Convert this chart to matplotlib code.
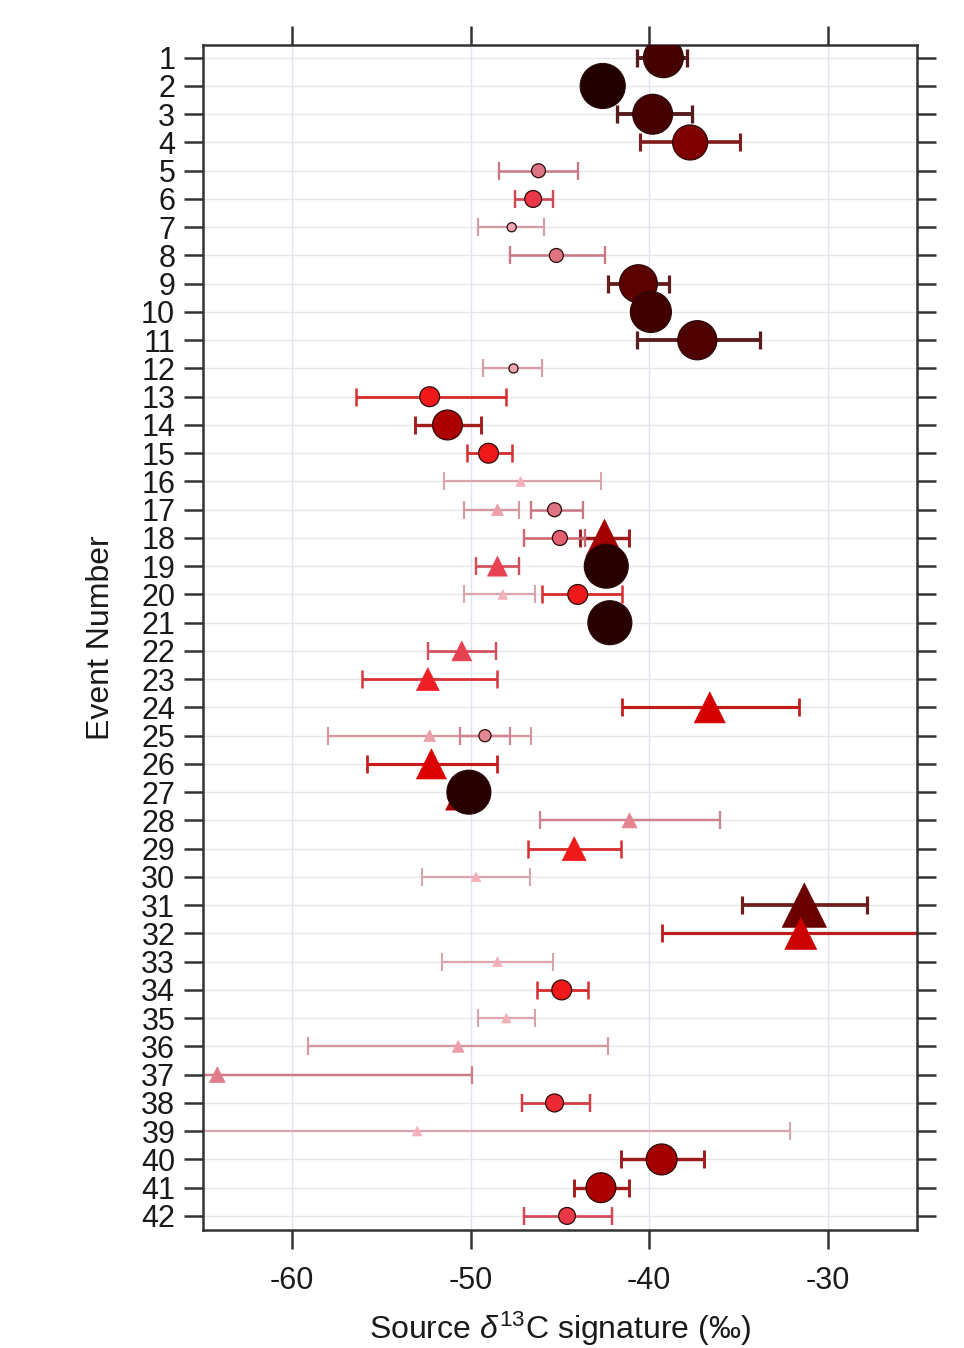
import numpy as np
import matplotlib
matplotlib.use("Agg")
import matplotlib.pyplot as plt
from matplotlib.colors import LinearSegmentedColormap, to_rgb


# ---------------------------------------------------
# Data
# ---------------------------------------------------

# circles
circ_event = [1, 2, 3, 4, 5, 6, 7, 8, 9, 10, 11, 12, 13, 14, 15,
              17, 18, 19, 20, 21, 25, 27, 34, 38, 40, 41, 42]
circ_mean = [-39.2, -42.6, -39.8, -37.7, -46.2, -46.5, -47.7, -45.2,
             -40.6, -39.9, -37.3, -47.6, -52.3, -51.3, -49.0,
             -45.3, -45.0, -42.4, -44.0, -42.2, -49.2, -50.1,
             -44.9, -45.3, -39.3, -42.7, -44.6]
circ_lo = [-40.7, -43.2, -41.8, -40.5, -48.4, -47.5, -49.6, -47.8,
           -42.3, -40.5, -40.7, -49.3, -56.4, -53.1, -50.2,
           -46.6, -47.0, -43.0, -46.0, -42.8, -50.6, -50.7,
           -46.3, -47.1, -41.6, -44.2, -47.0]
circ_hi = [-37.9, -42.0, -37.6, -34.9, -44.0, -45.4, -45.9, -42.5,
           -38.9, -39.3, -33.8, -46.0, -48.0, -49.4, -47.7,
           -43.7, -43.6, -41.8, -41.5, -41.6, -47.8, -49.5,
           -43.4, -43.3, -36.9, -41.1, -42.1]
circ_weight = [0.86, 1.00, 0.86, 0.73, 0.16, 0.24, 0.03, 0.16,
               0.81, 0.89, 0.84, 0.03, 0.32, 0.59, 0.32,
               0.16, 0.19, 0.97, 0.32, 0.97, 0.11, 0.97,
               0.32, 0.27, 0.62, 0.59, 0.24]

# triangles
tri_event = [16, 17, 18, 19, 20, 22, 23, 24, 25, 26, 27, 28, 29, 30,
             31, 32, 33, 35, 36, 37, 39]
tri_mean = [-47.2, -48.5, -42.5, -48.5, -48.2, -50.5, -52.4, -36.6,
            -52.3, -52.2, -50.4, -41.1, -44.2, -49.7, -31.3, -31.5,
            -48.5, -48.0, -50.7, -64.2, -53.0]
tri_lo = [-51.5, -50.4, -43.9, -49.7, -50.4, -52.4, -56.1, -41.5,
          -58.0, -55.8, -51.0, -46.1, -46.8, -52.7, -34.8, -39.3,
          -51.6, -49.6, -59.1, -78.5, -73.9]
tri_hi = [-42.7, -47.3, -41.1, -47.3, -46.4, -48.6, -48.5, -31.6,
          -46.6, -48.5, -49.8, -36.0, -41.6, -46.7, -27.8, -23.7,
          -45.4, -46.4, -42.3, -49.9, -32.1]
tri_weight = [0.00, 0.05, 0.62, 0.23, 0.00, 0.23, 0.30, 0.48,
              0.05, 0.46, 0.59, 0.12, 0.32, 0.00, 0.78, 0.50,
              0.00, 0.00, 0.05, 0.14, 0.00]

x_ticks = [-60, -50, -40, -30]


# ---------------------------------------------------
# Style
# ---------------------------------------------------

plt.rcParams["font.family"] = ["Liberation Sans", "DejaVu Sans"]
plt.rcParams["mathtext.fontset"] = "custom"
plt.rcParams["mathtext.rm"] = "Liberation Sans"
plt.rcParams["mathtext.it"] = "Liberation Sans:italic"

cmap = LinearSegmentedColormap.from_list(
    "weight",
    [(0.00, "#f4b0b8"), (0.16, "#de7482"), (0.25, "#ec3040"),
     (0.32, "#f01818"), (0.45, "#e00000"), (0.60, "#aa0000"),
     (0.73, "#800000"), (0.86, "#480000"), (1.00, "#220000")]
)

axis_col = "#333333"
text_col = "#1a1a1a"


def err_colour(c):
    # error bars: marker colour, a bit greyer
    r, g, b = to_rgb(c)
    grey = 0.5
    return (0.78 * r + 0.22 * grey, 0.78 * g + 0.22 * grey,
            0.78 * b + 0.22 * grey)


def px_to_pt(px):
    return px * 72.0 / 100.0


# ---------------------------------------------------
# Plot
# ---------------------------------------------------

fig = plt.figure(figsize=(9.64, 13.48), dpi=100)
ax = fig.add_axes([0.2106, 0.0875, 0.7404, 0.8791])

ax.set_xlim(-65, -25)
ax.set_ylim(42.5, 0.55)

ax.set_xticks(x_ticks)
ax.set_xticklabels([str(v) for v in x_ticks])
ax.set_yticks(range(1, 43))

for y in range(1, 43):
    ax.axhline(y, color="#e6e6ec", lw=1.0, zorder=0)
for x in x_ticks:
    ax.axvline(x, color="#e2e2f2", lw=1.0, zorder=0)

groups = [
    (tri_event, tri_mean, tri_lo, tri_hi, tri_weight, "^", 1.2, 3),
    (circ_event, circ_mean, circ_lo, circ_hi, circ_weight, "o", 1.0, 4),
]

for ev, mean, lo, hi, w, mk, scale, z in groups:
    ev = np.asarray(ev)
    mean = np.asarray(mean)
    lo = np.asarray(lo)
    hi = np.asarray(hi)
    w = np.asarray(w)
    cols = [cmap(v) for v in w]

    for i in range(len(ev)):
        ax.errorbar(
            mean[i], ev[i],
            xerr=[[mean[i] - lo[i]], [hi[i] - mean[i]]],
            fmt="none",
            ecolor=err_colour(cols[i]),
            elinewidth=1.6 + 1.4 * w[i],
            capsize=6.5,
            capthick=1.5 + 1.0 * w[i],
            zorder=2,
        )

    diam = px_to_pt(scale * (8 + 37 * w))
    if mk == "o":
        edge = "#2b0a0a"
        lw = 0.9
    else:
        edge = cols
        lw = 0.5
    ax.scatter(
        mean, ev,
        s=diam ** 2,
        marker=mk,
        c=cols,
        edgecolors=edge,
        linewidths=lw,
        zorder=z,
    )

for side in ["left", "right", "top", "bottom"]:
    ax.spines[side].set_color(axis_col)
    ax.spines[side].set_linewidth(1.8)

ax.tick_params(
    axis="both", which="major",
    direction="out", length=14, width=1.8, color=axis_col,
    labelsize=22, labelcolor=text_col,
    top=True, right=True, labeltop=False, labelright=False,
)
ax.tick_params(axis="y", pad=6)
ax.tick_params(axis="x", pad=12)

ax.set_ylabel("Event Number", fontsize=23, color=text_col, labelpad=18)
ax.set_xlabel(r"Source $\delta^{13}$C signature (‰)",
              fontsize=23, color=text_col, labelpad=10)

fig.savefig("out.png", dpi=100)
